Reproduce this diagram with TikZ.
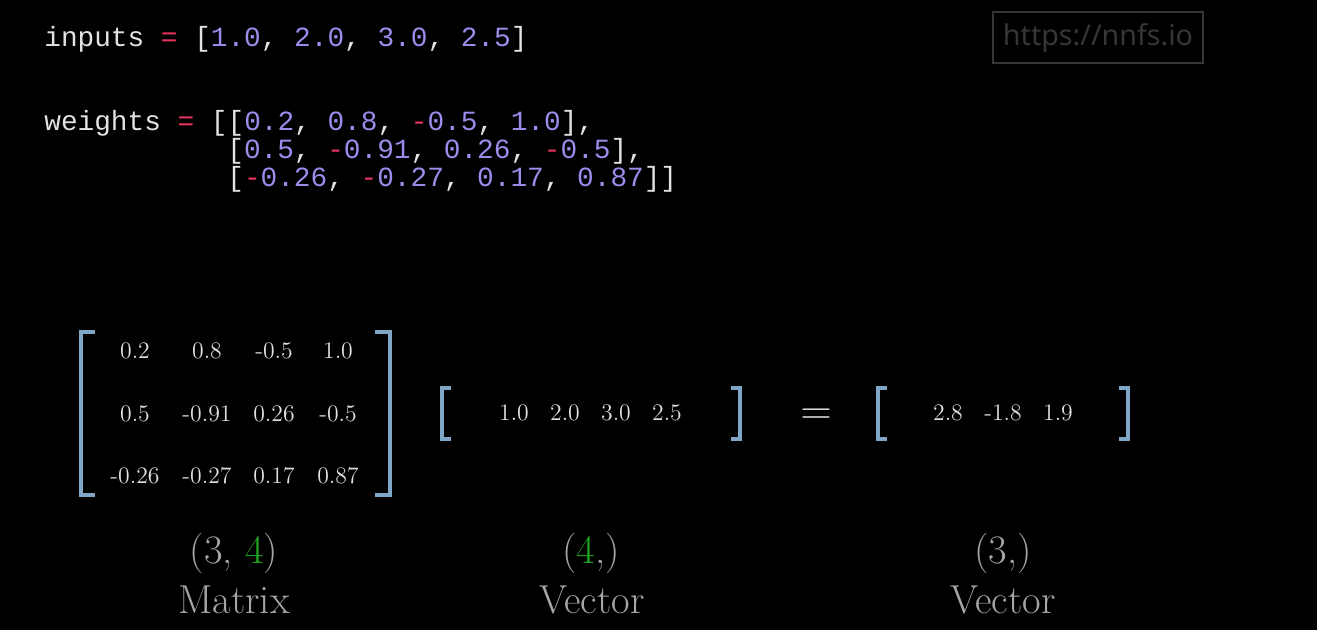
\documentclass[tikz,border=0pt]{standalone}
\usepackage{fontspec}
\usepackage{xcolor}
\newfontfamily\codefont{Liberation Mono}
\newfontfamily\urlfont{Noto Sans}
\frenchspacing
\definecolor{codewhite}{HTML}{E2E2E2}
\definecolor{numpurple}{HTML}{9C8CEB}
\definecolor{opred}{HTML}{E8335E}
\definecolor{brkblue}{HTML}{7FA5C7}
\definecolor{cellgray}{HTML}{E0E0E0}
\definecolor{labelgray}{HTML}{A6A6A6}
\definecolor{dimgreen}{HTML}{20A820}
\definecolor{urlgray}{HTML}{363636}
\newcommand{\pnum}[1]{\textcolor{numpurple}{#1}}
\newcommand{\pneg}{\textcolor{opred}{-}}
\newcommand{\peq}{\textcolor{opred}{=}}
\tikzset{
  code/.style={anchor=base west,inner sep=0pt,text=codewhite,font={\codefont\fontsize{15.8}{18}\selectfont}},
  cell/.style={inner sep=0pt,text=cellgray,font={\fontsize{13.5}{15}\selectfont}},
  dimlabel/.style={anchor=base,inner sep=0pt,text=labelgray,font={\fontsize{23}{27}\selectfont}},
  brk/.style={draw=brkblue,line width=2.3pt},
  urlbox/.style={draw=urlgray,line width=1pt,text=urlgray,minimum width=4.2cm,minimum height=1.02cm,inner sep=0pt,font={\urlfont\fontsize{16.3}{18}\selectfont}},
}
\begin{document}
\begin{tikzpicture}[x=0.02cm,y=-0.02cm]
    \fill[black] (0,0) rectangle (1317,630);%

    \node[code] (IN) at (44,46) {inputs \peq{} [\pnum{1.0}, \pnum{2.0}, \pnum{3.0}, \pnum{2.5}]};%
    \node[code] (W1) at (44,130) {weights \peq{} [[\pnum{0.2}, \pnum{0.8}, \pneg\pnum{0.5}, \pnum{1.0}],};%
    \node[code] (W2) at (227,158) {[\pnum{0.5}, \pneg\pnum{0.91}, \pnum{0.26}, \pneg\pnum{0.5}],};%
    \node[code] (W3) at (227,186) {[\pneg\pnum{0.26}, \pneg\pnum{0.27}, \pnum{0.17}, \pnum{0.87}]]};%
    \node[urlbox] (URL) at (1098,37.5) {https://nnfs.io};%

    \node[cell] (M11) at (135,351) {0.2};%
    \node[cell] (M12) at (207,351) {0.8};%
    \node[cell] (M13) at (274,351) {-0.5};%
    \node[cell] (M14) at (338,351) {1.0};%
    \node[cell] (M21) at (135,414) {0.5};%
    \node[cell] (M22) at (207,414) {-0.91};%
    \node[cell] (M23) at (274,414) {0.26};%
    \node[cell] (M24) at (338,414) {-0.5};%
    \node[cell] (M31) at (135,476) {-0.26};%
    \node[cell] (M32) at (207,476) {-0.27};%
    \node[cell] (M33) at (274,476) {0.17};%
    \node[cell] (M34) at (338,476) {0.87};%
    \node[cell] (V1) at (514,413) {1.0};%
    \node[cell] (V2) at (565,413) {2.0};%
    \node[cell] (V3) at (616,413) {3.0};%
    \node[cell] (V4) at (667,413) {2.5};%
    \node[cell,font={\fontsize{26}{28}\selectfont}] (EQ) at (816,417) {$=$};%
    \node[cell] (R1) at (948,413) {2.8};%
    \node[cell] (R2) at (1003,413) {-1.8};%
    \node[cell] (R3) at (1058,413) {1.9};%

    \draw[brk] (95,332) -- (81,332) -- (81,495) -- (95,495);%
    \draw[brk] (375,332) -- (390,332) -- (390,495) -- (375,495);%
    \draw[brk] (451,388) -- (442,388) -- (442,439) -- (451,439);%
    \draw[brk] (731,388) -- (740,388) -- (740,439) -- (731,439);%
    \draw[brk] (887,388) -- (878,388) -- (878,439) -- (887,439);%
    \draw[brk] (1119,388) -- (1128,388) -- (1128,439) -- (1119,439);%

    \node[dimlabel] (ML) at (234,563) {(3, \textcolor{dimgreen}{4})};%
    \node[dimlabel] (MT) at (234,613) {Matrix};%
    \node[dimlabel] (VL) at (591,563) {(\textcolor{dimgreen}{4},)};%
    \node[dimlabel] (VT) at (592,613) {Vector};%
    \node[dimlabel] (RL) at (1003,563) {(3,)};%
    \node[dimlabel] (RT) at (1003,613) {Vector};%
  \end{tikzpicture}
\end{document}
